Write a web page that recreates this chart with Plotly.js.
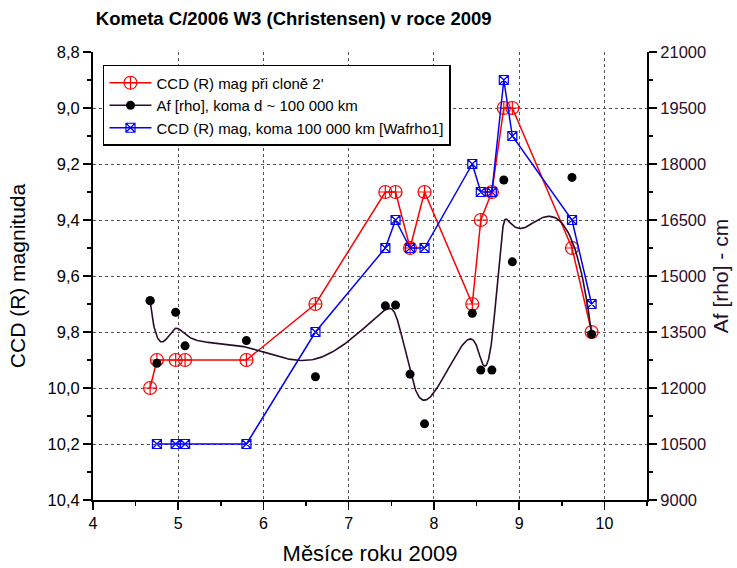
<!DOCTYPE html>
<html>
<head>
<meta charset="utf-8">
<script src="https://cdn.plot.ly/plotly-3.0.1.min.js"></script>
<style>
  html, body { margin: 0; padding: 0; background: #ffffff; }
  #chart { width: 737px; height: 568px; }
</style>
</head>
<body>
<div id="chart"></div>
<script>
// Observation dates, expressed as fractional months of 2009
const months = [4.67, 4.75, 4.97, 5.08, 5.80, 6.61, 7.43, 7.55, 7.72, 7.89, 8.45, 8.55, 8.68, 8.82, 8.92, 9.62, 9.85];

// CCD (R) magnitude measured in a 2' aperture
const magAperture = [10.0, 9.9, 9.9, 9.9, 9.9, 9.7, 9.3, 9.3, 9.5, 9.3, 9.7, 9.4, 9.3, 9.0, 9.0, 9.5, 9.8];

// CCD (R) magnitude for a 100 000 km coma (Wafrho1); no value for the first night
const magComa = [null, 10.2, 10.2, 10.2, 10.2, 9.8, 9.5, 9.4, 9.5, 9.5, 9.2, 9.3, 9.3, 8.9, 9.1, 9.4, 9.7];

// Af(rho) in cm for a coma diameter of ~100 000 km
const afRho = [14340, 12660, 14030, 13130, 13270, 12300, 14200, 14220, 12370, 11040, 14000, 12480, 12480, 17570, 15380, 17640, 13440];

// Axis ticks and labels
const monthTicks = [4, 5, 6, 7, 8, 9, 10];
const magTicks = [8.8, 9.0, 9.2, 9.4, 9.6, 9.8, 10.0, 10.2, 10.4];
const magTickText = ['8,8', '9,0', '9,2', '9,4', '9,6', '9,8', '10,0', '10,2', '10,4'];
const afTicks = [9000, 10500, 12000, 13500, 15000, 16500, 18000, 19500, 21000];
const afTickText = ['9000', '10500', '12000', '13500', '15000', '16500', '18000', '19500', '21000'];

// Clamped uniform B-spline through the Af control points (smoothed trend curve)
function clampedBSpline(xs, ys, degree, samples) {
  const n = xs.length - 1;
  const knots = [];
  for (let i = 0; i <= degree; i++) knots.push(0);
  for (let i = 1; i <= n - degree; i++) knots.push(i);
  for (let i = 0; i <= degree; i++) knots.push(n - degree + 1);
  const tMax = n - degree + 1;
  const outX = [], outY = [];
  for (let s = 0; s <= samples; s++) {
    const t = tMax * s / samples;
    let k = degree;
    while (k < n && t >= knots[k + 1]) k++;
    const dx = [], dy = [];
    for (let j = 0; j <= degree; j++) {
      dx.push(xs[k - degree + j]);
      dy.push(ys[k - degree + j]);
    }
    for (let r = 1; r <= degree; r++) {
      for (let j = degree; j >= r; j--) {
        const i = k - degree + j;
        const denom = knots[i + degree - r + 1] - knots[i];
        const a = denom === 0 ? 0 : (t - knots[i]) / denom;
        dx[j] = (1 - a) * dx[j - 1] + a * dx[j];
        dy[j] = (1 - a) * dy[j - 1] + a * dy[j];
      }
    }
    outX.push(dx[degree]);
    outY.push(dy[degree]);
  }
  return { x: outX, y: outY };
}

const afCurve = clampedBSpline(months, afRho, 3, 600);
const curveColor = '#2a0c2a';
// only the first sample carries a visible marker so the legend shows a dot
const curveMarkerColors = afCurve.x.map((_, i) => i === 0 ? '#000000' : 'rgba(0,0,0,0)');

const baseFont = 'Liberation Sans, Arial, sans-serif';

const traces = [
  {
    name: "CCD (R) mag při cloně 2'",
    x: months, y: magAperture,
    xaxis: 'x', yaxis: 'y',
    mode: 'lines+markers',
    line: { color: '#ff0000', width: 1.5 },
    marker: { symbol: 'circle-cross-open', size: 13, color: '#ff0000', line: { width: 1.2 } }
  },
  {
    name: 'Af [rho], koma d ~ 100 000 km',
    x: afCurve.x, y: afCurve.y,
    xaxis: 'x', yaxis: 'y2',
    mode: 'lines+markers',
    line: { color: curveColor, width: 1.6 },
    marker: { symbol: 'circle', size: 9, color: curveMarkerColors, line: { width: 0 } }
  },
  {
    name: 'Af points',
    x: months, y: afRho,
    xaxis: 'x', yaxis: 'y2',
    mode: 'markers',
    showlegend: false,
    marker: { symbol: 'circle', size: 9, color: '#000000' }
  },
  {
    name: 'CCD (R) mag, koma 100 000 km [Wafrho1]',
    x: months, y: magComa,
    xaxis: 'x', yaxis: 'y',
    mode: 'lines+markers',
    line: { color: '#0000ff', width: 1.5 },
    marker: { symbol: 'square-x-open', size: 9, color: '#0000ff', line: { width: 1.2 } }
  }
];

const layout = {
  width: 737,
  height: 568,
  paper_bgcolor: '#ffffff',
  plot_bgcolor: '#ffffff',
  margin: { l: 93, r: 90, t: 52, b: 68, pad: 0 },
  showlegend: true,
  font: { family: baseFont, size: 16, color: '#000000' },
  title: {
    text: 'Kometa C/2006 W3 (Christensen) v roce 2009',
    xref: 'container', x: 0.13, xanchor: 'left',
    yref: 'container', y: 0.967, yanchor: 'middle',
    font: { family: 'Liberation Sans Narrow, Arial Narrow, Liberation Sans, sans-serif', size: 18.5, weight: 'bold', color: '#000000' }
  },
  legend: {
    x: 0.018, y: 0.971, xanchor: 'left', yanchor: 'top',
    bgcolor: '#ffffff', bordercolor: '#000000', borderwidth: 1.5,
    font: { family: baseFont, size: 15, color: '#000000' },
    itemwidth: 42, tracegroupgap: 0
  },
  xaxis: {
    range: [4, 10.5],
    tickmode: 'array', tickvals: monthTicks,
    ticks: 'outside', ticklen: 8, tickwidth: 1.5, tickcolor: '#000000',
    showline: true, linecolor: '#000000', linewidth: 2,
    showgrid: true, gridcolor: '#555555', griddash: 'dot', gridwidth: 1,
    zeroline: false,
    minor: { tickmode: 'linear', tick0: 4, dtick: 0.5, ticks: 'outside', ticklen: 4, tickwidth: 1.5, tickcolor: '#000000', showgrid: false },
    tickfont: { size: 16 },
    title: { text: 'Měsíce roku 2009', font: { size: 22 }, standoff: 14 }
  },
  xaxis2: {
    overlaying: 'x', anchor: 'y', side: 'top',
    range: [4, 10.5],
    tickmode: 'array', tickvals: monthTicks,
    ticks: 'inside', ticklen: 8, tickwidth: 1.5, tickcolor: '#000000',
    showticklabels: false,
    showline: true, linecolor: '#000000', linewidth: 2,
    showgrid: false, zeroline: false,
    minor: { tickmode: 'linear', tick0: 4, dtick: 0.5, ticks: 'inside', ticklen: 4, tickwidth: 1.5, tickcolor: '#000000', showgrid: false }
  },
  yaxis: {
    range: [10.4, 8.8],
    tickmode: 'array', tickvals: magTicks, ticktext: magTickText,
    ticks: 'outside', ticklen: 8, tickwidth: 1.5, tickcolor: '#000000',
    showline: true, linecolor: '#000000', linewidth: 2,
    showgrid: true, gridcolor: '#555555', griddash: 'dot', gridwidth: 1,
    zeroline: false,
    minor: { tickmode: 'linear', tick0: 8.8, dtick: 0.1, ticks: 'outside', ticklen: 4, tickwidth: 1.5, tickcolor: '#000000', showgrid: false },
    tickfont: { size: 16.5 },
    title: { text: 'CCD (R) magnituda', font: { size: 21 }, standoff: 16 }
  },
  yaxis2: {
    overlaying: 'y', side: 'right', anchor: 'x',
    range: [9000, 21000],
    tickmode: 'array', tickvals: afTicks, ticktext: afTickText,
    ticks: 'outside', ticklen: 8, tickwidth: 1.5, tickcolor: '#000000',
    showline: true, linecolor: '#000000', linewidth: 2,
    showgrid: false, zeroline: false,
    minor: { tickmode: 'linear', tick0: 9000, dtick: 750, ticks: 'outside', ticklen: 4, tickwidth: 1.5, tickcolor: '#000000', showgrid: false },
    tickfont: { size: 16.5, color: '#2a0c2a' },
    title: { text: 'Af [rho] - cm', font: { size: 21, color: '#2a0c2a' }, standoff: 8 }
  }
};

Plotly.newPlot('chart', traces, layout, { staticPlot: true, displayModeBar: false });
</script>
</body>
</html>
